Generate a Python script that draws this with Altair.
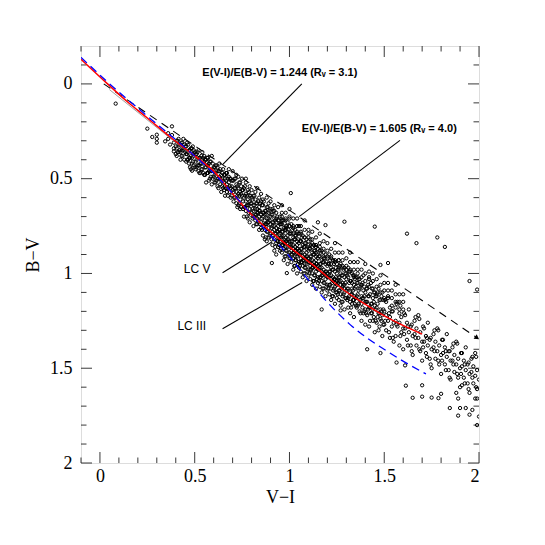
import altair as alt
import pandas as pd
import numpy as np

# ---------------- data ----------------
# LC V intrinsic sequence (red)
lcv_vi = [-0.10, 0.04, 0.14, 0.25, 0.37, 0.50, 0.60, 0.70, 0.79, 0.95, 1.13, 1.29, 1.38, 1.53, 1.70]
lcv_bv = [-0.13, 0.00, 0.09, 0.18, 0.28, 0.38, 0.46, 0.58, 0.68, 0.82, 0.96, 1.09, 1.15, 1.24, 1.32]
# LC III intrinsic sequence (blue dashed)
lc3_vi = [-0.10, 0.04, 0.25, 0.50, 0.62, 0.72, 0.80, 0.90, 1.00, 1.08, 1.18, 1.32, 1.53, 1.72]
lc3_bv = [-0.14, -0.01, 0.17, 0.38, 0.49, 0.60, 0.69, 0.80, 0.91, 1.01, 1.13, 1.27, 1.42, 1.53]
# reddening vectors
vec40_vi = [0.02, 1.99]
vec40_bv = [0.00, 1.34]
vec31_vi = [0.05, 0.60]
vec31_bv = [0.03, 0.47]

# annotation pointer segments (x1, y1, x2, y2)
pointers = [
    (1.065, 0.00, 0.647, 0.426),
    (1.583, 0.298, 1.051, 0.700),
    (0.647, 0.996, 0.909, 0.833),
    (0.647, 1.292, 1.067, 1.048),
]
labels_bold = [
    (0.54, -0.055, "E(V-I)/E(B-V) = 1.244 (R\u1d65 = 3.1)"),
    (1.065, 0.238, "E(V-I)/E(B-V) = 1.605 (R\u1d65 = 4.0)"),
]
labels_lc = [
    (0.583, 0.975, "LC V"),
    (0.56, 1.276, "LC III"),
]

cloud_upper = [
    (0.36,0.29),(0.37,0.32),(0.38,0.27),(0.39,0.31),(0.39,0.34),(0.36,0.26),
    (0.40,0.33),(0.41,0.30),(0.41,0.36),(0.42,0.32),(0.42,0.35),(0.43,0.31),(0.43,0.38),(0.44,0.34),(0.44,0.29),(0.45,0.36),(0.40,0.37),(0.43,0.34),
    (0.45,0.33),(0.46,0.37),(0.46,0.40),(0.47,0.35),(0.47,0.42),(0.48,0.38),(0.48,0.34),(0.49,0.41),(0.49,0.37),(0.50,0.44),(0.46,0.31),(0.48,0.45),(0.50,0.36),(0.47,0.39),(0.49,0.33),
    (0.51,0.40),(0.51,0.37),(0.52,0.43),(0.52,0.46),(0.53,0.39),(0.53,0.42),(0.54,0.36),(0.54,0.45),(0.55,0.41),(0.55,0.48),(0.51,0.44),(0.52,0.35),(0.53,0.47),(0.54,0.40),(0.55,0.38),
    (0.56,0.44),(0.56,0.40),(0.57,0.47),(0.57,0.43),(0.58,0.50),(0.58,0.41),(0.59,0.46),(0.59,0.38),(0.60,0.44),(0.60,0.49),(0.56,0.52),(0.58,0.45),(0.59,0.53),(0.57,0.39),
    (0.61,0.47),(0.61,0.43),(0.62,0.50),(0.62,0.54),(0.63,0.46),(0.63,0.42),(0.64,0.51),(0.64,0.48),(0.65,0.45),(0.65,0.55),(0.61,0.52),(0.62,0.44),(0.64,0.57),(0.63,0.49),
    (0.66,0.50),(0.66,0.54),(0.67,0.47),(0.67,0.57),(0.68,0.52),(0.68,0.49),(0.69,0.55),(0.69,0.60),(0.70,0.51),(0.70,0.46),(0.66,0.59),(0.67,0.53),(0.68,0.45),(0.69,0.50),(0.70,0.56),(0.66,0.48),
]
cloud_core1 = [
    (0.71,0.55),(0.71,0.50),(0.71,0.60),(0.72,0.57),(0.72,0.53),(0.72,0.63),(0.73,0.49),(0.73,0.58),(0.73,0.55),(0.74,0.61),(0.74,0.52),(0.74,0.66),(0.75,0.56),(0.75,0.59),(0.75,0.50),(0.72,0.48),(0.73,0.64),(0.74,0.57),
    (0.76,0.60),(0.76,0.55),(0.76,0.65),(0.76,0.70),(0.77,0.58),(0.77,0.62),(0.77,0.52),(0.77,0.67),(0.78,0.61),(0.78,0.56),(0.78,0.64),(0.78,0.71),(0.79,0.59),(0.79,0.54),(0.79,0.66),(0.79,0.62),(0.80,0.60),(0.80,0.68),(0.80,0.56),(0.80,0.63),(0.77,0.50),(0.79,0.73),
    (0.81,0.64),(0.81,0.59),(0.81,0.70),(0.81,0.75),(0.82,0.66),(0.82,0.61),(0.82,0.72),(0.82,0.57),(0.83,0.68),(0.83,0.63),(0.83,0.74),(0.83,0.66),(0.84,0.60),(0.84,0.70),(0.84,0.77),(0.84,0.65),(0.85,0.69),(0.85,0.62),(0.85,0.73),(0.85,0.58),(0.81,0.67),(0.82,0.69),(0.83,0.55),(0.84,0.67),(0.85,0.76),(0.83,0.71),
    (0.86,0.70),(0.86,0.64),(0.86,0.75),(0.86,0.80),(0.86,0.61),(0.87,0.72),(0.87,0.67),(0.87,0.77),(0.87,0.69),(0.87,0.82),(0.88,0.71),(0.88,0.65),(0.88,0.74),(0.88,0.60),(0.88,0.78),(0.89,0.73),(0.89,0.68),(0.89,0.76),(0.89,0.63),(0.89,0.81),(0.90,0.70),(0.90,0.74),(0.90,0.66),(0.90,0.79),(0.86,0.68),(0.87,0.74),(0.88,0.69),(0.89,0.71),(0.90,0.62),(0.88,0.83),
    (0.91,0.75),(0.91,0.69),(0.91,0.80),(0.91,0.85),(0.91,0.66),(0.91,0.73),(0.92,0.77),(0.92,0.71),(0.92,0.82),(0.92,0.67),(0.92,0.88),(0.92,0.75),(0.93,0.79),(0.93,0.73),(0.93,0.84),(0.93,0.68),(0.93,0.76),(0.93,0.90),(0.94,0.78),(0.94,0.72),(0.94,0.81),(0.94,0.65),(0.94,0.86),(0.94,0.75),(0.95,0.80),(0.95,0.74),(0.95,0.83),(0.95,0.70),(0.95,0.77),(0.95,0.88),(0.91,0.78),(0.93,0.71),(0.94,0.83),(0.92,0.64),
    (0.96,0.80),(0.96,0.74),(0.96,0.85),(0.96,0.70),(0.96,0.89),(0.96,0.78),(0.97,0.82),(0.97,0.76),(0.97,0.87),(0.97,0.72),(0.97,0.80),(0.97,0.93),(0.98,0.83),(0.98,0.77),(0.98,0.88),(0.98,0.71),(0.98,0.81),(0.98,0.91),(0.99,0.84),(0.99,0.78),(0.99,0.86),(0.99,0.73),(0.99,0.82),(0.99,0.95),(1.00,0.85),(1.00,0.79),(1.00,0.89),(1.00,0.75),(1.00,0.83),(1.00,0.92),(0.96,0.82),(0.97,0.84),(0.98,0.75),(0.99,0.80),(1.00,0.70),(0.98,0.86),
]
cloud_core2 = [
    (1.01,0.85),(1.01,0.79),(1.01,0.90),(1.01,0.74),(1.01,0.94),(1.01,0.83),(1.02,0.87),(1.02,0.81),(1.02,0.92),(1.02,0.76),(1.02,0.85),(1.02,0.98),(1.03,0.88),(1.03,0.82),(1.03,0.93),(1.03,0.77),(1.03,0.86),(1.03,0.96),(1.04,0.89),(1.04,0.83),(1.04,0.91),(1.04,0.78),(1.04,0.87),(1.04,1.00),(1.05,0.90),(1.05,0.84),(1.05,0.94),(1.05,0.79),(1.05,0.88),(1.05,0.97),(1.01,0.88),(1.02,0.89),(1.03,0.80),(1.04,0.85),(1.05,0.75),(1.03,0.91),
    (1.06,0.89),(1.06,0.83),(1.06,0.94),(1.06,0.78),(1.06,0.99),(1.06,0.87),(1.07,0.91),(1.07,0.85),(1.07,0.96),(1.07,0.80),(1.07,0.89),(1.07,1.02),(1.08,0.92),(1.08,0.86),(1.08,0.97),(1.08,0.81),(1.08,0.90),(1.08,1.00),(1.09,0.93),(1.09,0.87),(1.09,0.95),(1.09,0.82),(1.09,0.91),(1.09,1.04),(1.10,0.94),(1.10,0.88),(1.10,0.98),(1.10,0.83),(1.10,0.92),(1.10,1.01),(1.06,0.92),(1.07,0.93),(1.08,0.84),(1.09,0.89),(1.10,0.79),(1.08,0.95),
    (1.11,0.93),(1.11,0.87),(1.11,0.98),(1.11,0.82),(1.11,1.03),(1.11,0.91),(1.12,0.95),(1.12,0.89),(1.12,1.00),(1.12,0.84),(1.12,0.93),(1.12,1.06),(1.13,0.96),(1.13,0.90),(1.13,1.01),(1.13,0.85),(1.13,0.94),(1.13,1.04),(1.14,0.97),(1.14,0.91),(1.14,0.99),(1.14,0.86),(1.14,0.95),(1.14,1.08),(1.15,0.98),(1.15,0.92),(1.15,1.02),(1.15,0.87),(1.15,0.96),(1.15,1.05),(1.12,0.97),(1.13,0.88),(1.14,0.93),(1.11,0.96),
    (1.16,0.97),(1.16,0.91),(1.16,1.02),(1.16,0.86),(1.16,1.07),(1.16,0.95),(1.17,0.99),(1.17,0.93),(1.17,1.04),(1.17,0.88),(1.17,0.97),(1.17,1.10),(1.18,1.00),(1.18,0.94),(1.18,1.05),(1.18,0.89),(1.18,0.98),(1.18,1.08),(1.19,1.01),(1.19,0.95),(1.19,1.03),(1.19,0.90),(1.19,0.99),(1.19,1.12),(1.20,1.02),(1.20,0.96),(1.20,1.06),(1.20,0.91),(1.20,1.00),(1.20,1.09),(1.17,1.01),(1.18,0.92),
    (1.21,1.01),(1.21,0.95),(1.21,1.06),(1.21,0.90),(1.21,1.11),(1.21,0.99),(1.22,1.03),(1.22,0.97),(1.22,1.08),(1.22,0.92),(1.22,1.01),(1.22,1.14),(1.23,1.04),(1.23,0.98),(1.23,1.09),(1.23,0.93),(1.23,1.02),(1.23,1.12),(1.24,1.05),(1.24,0.99),(1.24,1.07),(1.24,0.94),(1.24,1.03),(1.24,1.16),(1.25,1.06),(1.25,1.00),(1.25,1.10),(1.25,0.95),(1.25,1.04),(1.25,1.13),
    (1.26,1.04),(1.26,0.98),(1.26,1.09),(1.26,0.93),(1.26,1.14),(1.26,1.02),(1.27,1.06),(1.27,1.00),(1.27,1.11),(1.27,0.95),(1.27,1.04),(1.27,1.17),(1.28,1.07),(1.28,1.01),(1.28,1.12),(1.28,0.96),(1.28,1.05),(1.28,1.15),(1.29,1.08),(1.29,1.02),(1.29,1.10),(1.29,0.97),(1.29,1.06),(1.29,1.19),(1.30,1.09),(1.30,1.03),(1.30,1.13),(1.30,0.98),
]
cloud_tail = [
    (1.31,1.08),(1.31,1.02),(1.31,1.13),(1.31,0.97),(1.31,1.18),(1.32,1.10),(1.32,1.04),(1.32,1.15),(1.32,0.99),(1.32,1.21),(1.33,1.11),(1.33,1.05),(1.33,1.16),(1.33,1.00),(1.33,1.08),(1.34,1.12),(1.34,1.06),(1.34,1.14),(1.34,1.01),(1.34,1.23),(1.35,1.13),(1.35,1.07),(1.35,1.17),(1.35,1.02),
    (1.36,1.11),(1.36,1.05),(1.36,1.17),(1.36,1.00),(1.37,1.14),(1.37,1.08),(1.37,1.20),(1.37,1.03),(1.38,1.12),(1.38,1.25),(1.38,1.06),(1.38,1.16),(1.39,1.13),(1.39,1.09),(1.39,1.21),(1.39,1.01),(1.40,1.15),(1.40,1.10),(1.40,1.19),(1.40,1.27),
    (1.41,1.15),(1.41,1.08),(1.41,1.22),(1.42,1.18),(1.42,1.12),(1.42,1.28),(1.43,1.16),(1.43,1.05),(1.43,1.21),(1.44,1.19),(1.44,1.13),(1.44,1.25),(1.45,1.17),(1.45,1.10),(1.45,1.31),(1.42,1.02),
    (1.46,1.18),(1.46,1.12),(1.46,1.26),(1.47,1.21),(1.47,1.08),(1.47,1.30),(1.48,1.19),(1.48,1.14),(1.48,1.24),(1.49,1.22),(1.49,1.10),(1.49,1.33),(1.50,1.20),(1.50,1.27),
    (1.51,1.22),(1.51,1.15),(1.51,1.30),(1.52,1.25),(1.52,1.12),(1.53,1.23),(1.53,1.34),(1.53,1.18),(1.54,1.28),(1.54,1.20),(1.55,1.26),(1.55,1.36),
    (1.56,1.25),(1.56,1.18),(1.56,1.33),(1.57,1.28),(1.57,1.15),(1.58,1.26),(1.58,1.38),(1.58,1.21),(1.59,1.31),(1.59,1.23),(1.60,1.29),(1.60,1.40),
    (1.61,1.29),(1.61,1.22),(1.62,1.35),(1.62,1.26),(1.63,1.31),(1.63,1.19),(1.64,1.38),(1.64,1.28),(1.65,1.33),(1.65,1.43),
    (1.66,1.32),(1.66,1.25),(1.67,1.38),(1.67,1.29),(1.68,1.34),(1.68,1.22),(1.69,1.41),(1.69,1.31),(1.70,1.36),(1.70,1.46),
    (1.71,1.36),(1.71,1.29),(1.72,1.42),(1.72,1.33),(1.73,1.38),(1.73,1.26),(1.74,1.45),(1.74,1.35),(1.75,1.40),(1.75,1.50),
    (1.76,1.39),(1.76,1.32),(1.77,1.45),(1.77,1.36),(1.78,1.41),(1.78,1.29),(1.79,1.48),(1.79,1.38),(1.80,1.43),(1.80,1.53),
    (1.81,1.42),(1.81,1.35),(1.82,1.48),(1.82,1.39),(1.83,1.44),(1.83,1.32),(1.84,1.51),(1.84,1.41),(1.85,1.46),(1.85,1.56),
    (1.86,1.46),(1.86,1.39),(1.87,1.52),(1.87,1.43),(1.88,1.48),(1.88,1.36),(1.89,1.55),(1.89,1.45),(1.90,1.50),(1.90,1.60),
    (1.91,1.49),(1.91,1.42),(1.92,1.55),(1.92,1.46),(1.93,1.51),(1.93,1.39),(1.94,1.58),(1.94,1.48),(1.95,1.53),(1.95,1.63),
    (1.96,1.52),(1.96,1.45),(1.97,1.58),(1.97,1.49),(1.98,1.54),(1.98,1.42),(1.99,1.61),(1.99,1.51),(2.00,1.56),(1.99,1.66),
]
# extra points filling the dense core: (V-I, B-V a, B-V b, B-V c)
core_columns = [
    (0.405,0.30,0.34,0.38),(0.415,0.32,0.36,0.29),(0.425,0.36,0.32,0.40),(0.435,0.31,0.35,0.38),(0.445,0.40,0.35,0.32),
    (0.455,0.33,0.37,0.41),(0.465,0.36,0.40,0.32),(0.475,0.39,0.35,0.44),(0.485,0.34,0.39,0.42),(0.495,0.43,0.38,0.35),
    (0.505,0.37,0.41,0.45),(0.515,0.39,0.43,0.36),(0.525,0.43,0.39,0.47),(0.535,0.38,0.42,0.45),(0.545,0.47,0.42,0.39),
    (0.555,0.40,0.44,0.48),(0.565,0.43,0.47,0.39),(0.575,0.46,0.42,0.51),(0.585,0.41,0.46,0.49),(0.595,0.50,0.45,0.42),
    (0.605,0.44,0.48,0.52),(0.615,0.46,0.51,0.43),(0.625,0.50,0.46,0.55),(0.635,0.45,0.50,0.53),(0.645,0.54,0.50,0.47),
    (0.655,0.48,0.52,0.56),(0.665,0.51,0.55,0.47),(0.675,0.55,0.50,0.59),(0.685,0.50,0.54,0.57),(0.695,0.59,0.54,0.51),
    (0.705,0.51,0.57,0.62),(0.715,0.55,0.60,0.50),(0.725,0.59,0.54,0.65),(0.735,0.52,0.59,0.63),(0.745,0.65,0.58,0.54),
    (0.755,0.56,0.62,0.66),(0.765,0.59,0.65,0.54),(0.775,0.64,0.59,0.70),(0.785,0.57,0.64,0.68),(0.795,0.69,0.63,0.59),
    (0.805,0.61,0.66,0.71),(0.815,0.64,0.70,0.59),(0.825,0.69,0.63,0.74),(0.835,0.62,0.68,0.72),(0.845,0.74,0.67,0.63),
    (0.855,0.64,0.71,0.77),(0.865,0.68,0.75,0.62),(0.875,0.74,0.67,0.81),(0.885,0.65,0.73,0.78),(0.895,0.80,0.72,0.67),
    (0.905,0.69,0.76,0.82),(0.915,0.73,0.80,0.67),(0.925,0.79,0.72,0.86),(0.935,0.70,0.78,0.83),(0.945,0.85,0.77,0.72),
    (0.955,0.74,0.81,0.87),(0.965,0.78,0.85,0.72),(0.975,0.84,0.77,0.91),(0.985,0.75,0.83,0.88),(0.995,0.90,0.82,0.77),
    (1.005,0.79,0.86,0.92),(1.015,0.83,0.90,0.77),(1.025,0.89,0.82,0.96),(1.035,0.80,0.88,0.93),(1.045,0.95,0.87,0.82),
    (1.055,0.83,0.90,0.96),(1.065,0.87,0.94,0.81),(1.075,0.93,0.86,1.00),(1.085,0.84,0.92,0.97),(1.095,0.99,0.91,0.86),
    (1.105,0.87,0.94,1.00),(1.115,0.91,0.98,0.85),(1.125,0.97,0.90,1.04),(1.135,0.88,0.96,1.01),(1.145,1.03,0.95,0.90),
    (1.155,0.91,0.98,1.04),(1.165,0.95,1.02,0.89),(1.175,1.01,0.94,1.08),(1.185,0.92,1.00,1.05),(1.195,1.07,0.99,0.94),
    (1.205,0.95,1.02,1.08),(1.215,0.99,1.06,0.93),(1.225,1.05,0.98,1.12),(1.235,0.95,1.03,1.08),(1.245,1.10,1.02,0.97),
    (1.255,0.98,1.05,1.11),(1.265,1.02,1.09,0.96),(1.275,1.08,1.01,1.15),(1.285,0.98,1.06,1.11),(1.295,1.13,1.05,1.00),
    (1.305,1.01,1.08,1.14),(1.315,1.05,1.12,0.99),(1.325,1.11,1.04,1.18),(1.335,1.01,1.09,1.14),(1.345,1.16,1.08,1.03),
    (1.355,1.05,1.12,1.18),(1.365,1.09,1.16,1.03),(1.375,1.14,1.07,1.21),(1.385,1.05,1.13,1.18),(1.395,1.20,1.12,1.07),
    (1.405,1.08,1.15,1.21),(1.415,1.12,1.19,1.06),(1.425,1.18,1.11,1.25),(1.435,1.08,1.16,1.21),(1.445,1.23,1.15,1.10),
    (1.455,1.12,1.19,1.25),(1.465,1.16,1.23,1.10),(1.475,1.21,1.14,1.28),(1.485,1.12,1.20,1.25),(1.495,1.27,1.19,1.14),
]
# upper (bluer) side of the dense clump: (V-I, B-V a, B-V b, B-V c)
upper_columns = [
    (0.96,0.72,0.68,0.64),(0.98,0.72,0.68,0.76),(1.00,0.71,0.75,0.66),(1.02,0.75,0.71,0.79),(1.04,0.79,0.75,0.71),
    (1.06,0.79,0.75,0.83),(1.08,0.77,0.81,0.72),(1.10,0.81,0.77,0.85),(1.12,0.86,0.82,0.78),(1.14,0.85,0.81,0.89),
    (1.16,0.84,0.88,0.79),(1.18,0.87,0.83,0.91),(1.20,0.92,0.88,0.84),(1.22,0.91,0.87,0.95),(1.24,0.89,0.93,0.84),
    (1.26,0.93,0.89,0.97),(1.28,0.97,0.93,0.89),(1.30,0.96,0.92,1.00),(1.32,0.94,0.98,0.89),(1.34,0.98,0.94,1.02),
    (1.36,1.02,0.98,0.94),(1.38,1.02,0.98,1.06),(1.40,1.00,1.04,0.95),(1.42,1.03,0.99,1.07),(1.44,1.08,1.04,1.00),
    (1.46,1.07,1.03,1.11),(1.48,1.06,1.10,1.01),(1.50,1.09,1.05,1.13),(1.52,1.13,1.09,1.05),(1.54,1.13,1.09,1.17),
    (1.56,1.11,1.15,1.06),(1.58,1.15,1.11,1.19),(1.60,1.19,1.15,1.11),
]
# extra points in the red tail: (V-I, B-V a, B-V b)
tail_columns = [
    (1.505,1.14,1.25),(1.525,1.31,1.21),(1.545,1.20,1.34),(1.565,1.27,1.16),(1.585,1.17,1.33),
    (1.605,1.21,1.32),(1.625,1.38,1.28),(1.645,1.27,1.41),(1.665,1.34,1.23),(1.685,1.24,1.40),
    (1.705,1.28,1.39),(1.725,1.44,1.34),(1.745,1.34,1.48),(1.765,1.41,1.30),(1.785,1.30,1.46),
    (1.805,1.35,1.46),(1.825,1.51,1.41),(1.845,1.41,1.55),(1.865,1.48,1.37),(1.885,1.37,1.53),
    (1.905,1.42,1.53),(1.925,1.58,1.48),(1.945,1.47,1.61),(1.965,1.55,1.44),(1.985,1.44,1.60),
]
outliers = [
    (0.083,0.104),(0.25,0.236),(0.276,0.28),(0.30,0.268),(0.30,0.29),(0.30,0.31),(0.38,0.224),(0.344,0.303),(0.39,0.356),(0.486,0.458),
    (1.007,0.576),(1.15,0.73),(1.19,0.745),(1.29,0.727),(1.45,0.753),(1.48,0.955),(1.52,0.945),(1.62,0.79),(1.67,0.84),(1.78,0.81),(1.82,0.86),(1.95,1.04),(1.99,1.085),
    (0.907,0.945),(0.986,0.998),(1.17,1.19),(1.27,1.195),
    (1.41,1.40),(1.48,1.42),(1.565,1.47),(1.61,1.485),(1.614,1.592),(1.65,1.656),(1.70,1.65),(1.70,1.59),(1.75,1.655),(1.786,1.658),(1.80,1.635),
    (1.846,1.71),(1.89,1.66),(1.90,1.71),(1.93,1.71),(1.965,1.72),(1.89,1.75),(1.95,1.745),(1.99,1.80),(1.98,1.66),(1.88,1.63),(1.91,1.59),(2.0,1.755),
]

x_major = [0, 0.5, 1.0, 1.5, 2.0]
y_major = [0, 0.5, 1.0, 1.5, 2.0]
x_minor = [v for v in np.round(np.arange(-0.1, 2.0, 0.1), 1) if round(v * 2, 6) % 1 != 0]
y_minor = [v for v in np.round(np.arange(-0.1, 2.0, 0.1), 1) if round(v * 2, 6) % 1 != 0]

# ---------------- chart ----------------
W, H = 398, 417
SERIF = "Liberation Serif"
xs = alt.Scale(domain=[-0.1, 2.0], nice=False, zero=False)
ys = alt.Scale(domain=[-0.2, 2.0], nice=False, zero=False, reverse=True)
xaxis = alt.Axis(values=x_major, format="~g", ticks=False, grid=False, domain=False,
                 labelFont=SERIF, labelFontSize=18, labelColor="black", labelPadding=4,
                 title="V\u2212I", titleFont=SERIF, titleFontSize=18, titleFontWeight="normal",
                 titleColor="black", titlePadding=3)
yaxis = alt.Axis(values=y_major, format="~g", ticks=False, grid=False, domain=False,
                 labelFont=SERIF, labelFontSize=18, labelColor="black", labelPadding=9,
                 title="B\u2212V", titleFont=SERIF, titleFontSize=18, titleFontWeight="normal",
                 titleColor="black", titlePadding=7)


def X(f="vi"):
    return alt.X(f, type="quantitative", scale=xs, axis=xaxis)


def Y(f="bv"):
    return alt.Y(f, type="quantitative", scale=ys, axis=yaxis)


cloud = cloud_upper + cloud_core1 + cloud_core2 + cloud_tail + outliers
cloud += [(c[0], b) for c in core_columns for b in c[1:]]
cloud += [(c[0], b) for c in upper_columns for b in c[1:]]
cloud += [(c[0], b) for c in tail_columns for b in c[1:]]
cloud_df = pd.DataFrame(cloud, columns=["vi", "bv"])

points = alt.Chart(cloud_df).mark_point(
    shape="circle", size=11, filled=False, stroke="black", strokeWidth=1.0, opacity=1, clip=True
).encode(x=X(), y=Y())

red = alt.Chart(pd.DataFrame({"vi": lcv_vi, "bv": lcv_bv})).mark_line(
    color="#ff0000", strokeWidth=1.5, clip=True, interpolate="monotone").encode(x=X(), y=Y())
blue = alt.Chart(pd.DataFrame({"vi": lc3_vi, "bv": lc3_bv})).mark_line(
    color="#0000ff", strokeWidth=1.3, strokeDash=[8, 5], clip=True, interpolate="monotone").encode(x=X(), y=Y())
vec40 = alt.Chart(pd.DataFrame({"vi": vec40_vi, "bv": vec40_bv})).mark_line(
    color="black", strokeWidth=1.1, strokeDash=[8, 6], clip=True).encode(x=X(), y=Y())
vec31 = alt.Chart(pd.DataFrame({"vi": vec31_vi, "bv": vec31_bv})).mark_line(
    color="#777777", strokeWidth=0.7, clip=True).encode(x=X(), y=Y())
arrow = alt.Chart(pd.DataFrame({"vi": [vec40_vi[1]], "bv": [vec40_bv[1]]})).mark_point(
    shape="triangle-right", filled=True, color="black", size=30, angle=34, opacity=1
).encode(x=X(), y=Y())

ptr_df = pd.DataFrame(pointers, columns=["vi", "bv", "vi2", "bv2"])
ptrs = alt.Chart(ptr_df).mark_rule(color="black", strokeWidth=1.1).encode(
    x=X(), y=Y(), x2="vi2:Q", y2="bv2:Q")

bold_df = pd.DataFrame(labels_bold, columns=["vi", "bv", "label"])
bold_txt = alt.Chart(bold_df).mark_text(
    align="left", baseline="middle", font="Liberation Sans", fontSize=11, fontWeight="bold", color="black"
).encode(x=X(), y=Y(), text="label:N")

lc_df = pd.DataFrame(labels_lc, columns=["vi", "bv", "label"])
lc_txt = alt.Chart(lc_df).mark_text(
    align="right", baseline="middle", font="Liberation Sans", fontSize=12, color="black"
).encode(x=X(), y=Y(), text="label:N")

TICK = "#222222"


def xticks(vals, length):
    d = pd.DataFrame({"vi": vals})
    bot = alt.Chart(d).mark_rule(color=TICK, strokeWidth=0.9).encode(
        x=X(), y=alt.value(H), y2=alt.value(H - length))
    top = alt.Chart(d).mark_rule(color=TICK, strokeWidth=0.9).encode(
        x=X(), y=alt.value(0), y2=alt.value(length))
    return [bot, top]


def yticks(vals, length):
    d = pd.DataFrame({"bv": vals})
    left = alt.Chart(d).mark_rule(color=TICK, strokeWidth=0.9).encode(
        y=Y(), x=alt.value(0), x2=alt.value(length))
    right = alt.Chart(d).mark_rule(color=TICK, strokeWidth=0.9).encode(
        y=Y(), x=alt.value(W), x2=alt.value(W - length))
    return [left, right]


tick_layers = xticks(x_major, 11) + xticks(x_minor, 5.5) + yticks(y_major, 11) + yticks(y_minor, 5.5)

chart = alt.layer(
    *tick_layers, points, vec31, vec40, arrow, red, blue, ptrs, bold_txt, lc_txt
).properties(
    width=W, height=H,
    autosize=alt.AutoSizeParams(type="none"),
    padding={"left": 73, "top": 38, "right": 50, "bottom": 60},
).configure_view(stroke="black", strokeWidth=1.2).configure(background="white")

chart.save("out.html", embed_options={"renderer": "svg", "actions": False})
